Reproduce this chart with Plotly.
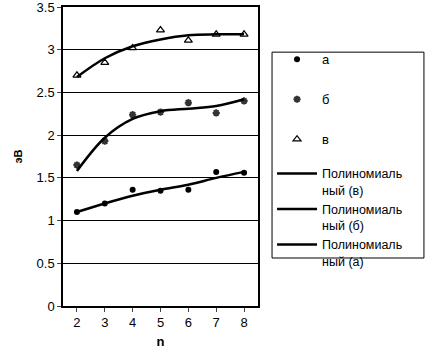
import plotly.graph_objects as go

n = [2, 3, 4, 5, 6, 7, 8]
a_vals = [1.10, 1.20, 1.36, 1.35, 1.36, 1.57, 1.56]
b_vals = [1.65, 1.93, 2.24, 2.27, 2.38, 2.26, 2.40]
v_vals = [2.70, 2.85, 3.02, 3.23, 3.11, 3.18, 3.18]

trend_v = [2.68, 2.90, 3.04, 3.12, 3.17, 3.18, 3.18]
trend_b = [1.58, 1.97, 2.19, 2.28, 2.31, 2.34, 2.42]
trend_a = [1.10, 1.20, 1.29, 1.36, 1.42, 1.50, 1.57]

yticks = [0, 0.5, 1, 1.5, 2, 2.5, 3, 3.5]
ytick_text = ["0", "0.5", "1", "1.5", "2", "2.5", "3", "3.5"]

fig = go.Figure()
fig.add_trace(go.Scatter(x=n, y=a_vals, mode="markers", name="а", legendgroup="1", legend="legend",
                         marker=dict(symbol="circle", size=6, color="black")))
fig.add_trace(go.Scatter(x=n, y=b_vals, mode="markers", name="б", legendgroup="2", legend="legend",
                         marker=dict(symbol="asterisk-open", size=6, color="#333",
                                     line=dict(width=2, color="#333"))))
fig.add_trace(go.Scatter(x=n, y=v_vals, mode="markers", name="в", legendgroup="3", legend="legend",
                         marker=dict(symbol="triangle-up-open", size=7, color="black",
                                     line=dict(width=1.2))))
fig.add_trace(go.Scatter(x=n, y=trend_v, mode="lines", name="Полиномиаль<br>ный (в)", legendgroup="4",
                         legend="legend2", line=dict(color="black", width=2.5, shape="spline")))
fig.add_trace(go.Scatter(x=n, y=trend_b, mode="lines", name="Полиномиаль<br>ный (б)", legendgroup="5",
                         legend="legend2", line=dict(color="black", width=2.5, shape="spline")))
fig.add_trace(go.Scatter(x=n, y=trend_a, mode="lines", name="Полиномиаль<br>ный (а)", legendgroup="6",
                         legend="legend2", line=dict(color="black", width=2.5, shape="spline")))

font = "Liberation Sans, Arial, sans-serif"
fig.update_layout(
    width=426, height=349,
    margin=dict(l=63, r=168, t=7, b=43, pad=0, autoexpand=False),
    paper_bgcolor="white", plot_bgcolor="white",
    font=dict(family=font, size=13, color="black"),
    showlegend=True,
    legend=dict(x=1.072, y=0.875, xanchor="left", yanchor="top",
                borderwidth=0, bgcolor="rgba(0,0,0,0)",
                font=dict(family=font, size=13, color="black"),
                tracegroupgap=20, itemwidth=40, valign="top"),
    legend2=dict(x=1.072, y=0.492, xanchor="left", yanchor="top",
                 borderwidth=0, bgcolor="rgba(0,0,0,0)",
                 font=dict(family=font, size=12.5, color="black"),
                 tracegroupgap=0, itemwidth=40, valign="top"),
    shapes=[dict(type="rect", xref="paper", yref="paper",
                 x0=1.072, x1=1.851, y0=0.1605, y1=0.849,
                 line=dict(color="black", width=1), fillcolor="rgba(0,0,0,0)")],
)
fig.update_xaxes(range=[1.5, 8.5], tickvals=n, ticktext=[str(v) for v in n],
                 automargin=False,
                 showgrid=False, zeroline=False, showline=True, linecolor="black",
                 linewidth=1.5, mirror=True, ticks="outside", ticklen=4,
                 tickfont=dict(size=13, family=font),
                 title=dict(text="<b>n</b>", font=dict(size=13, family=font), standoff=8))
fig.update_yaxes(range=[0, 3.5], tickvals=yticks, ticktext=ytick_text,
                 automargin=False, ticklabeloverflow="allow",
                 showgrid=True, gridcolor="black", gridwidth=1.2, zeroline=False,
                 showline=True, linecolor="black", linewidth=1.5, mirror=True,
                 ticks="outside", ticklen=4,
                 tickfont=dict(size=13, family=font),
                 title=dict(text="<b>эВ</b>", font=dict(size=11, family=font), standoff=12))

fig.write_html("out.html", config={"displayModeBar": False},
               post_script="document.body.style.margin='0';document.body.style.overflow='hidden';")
